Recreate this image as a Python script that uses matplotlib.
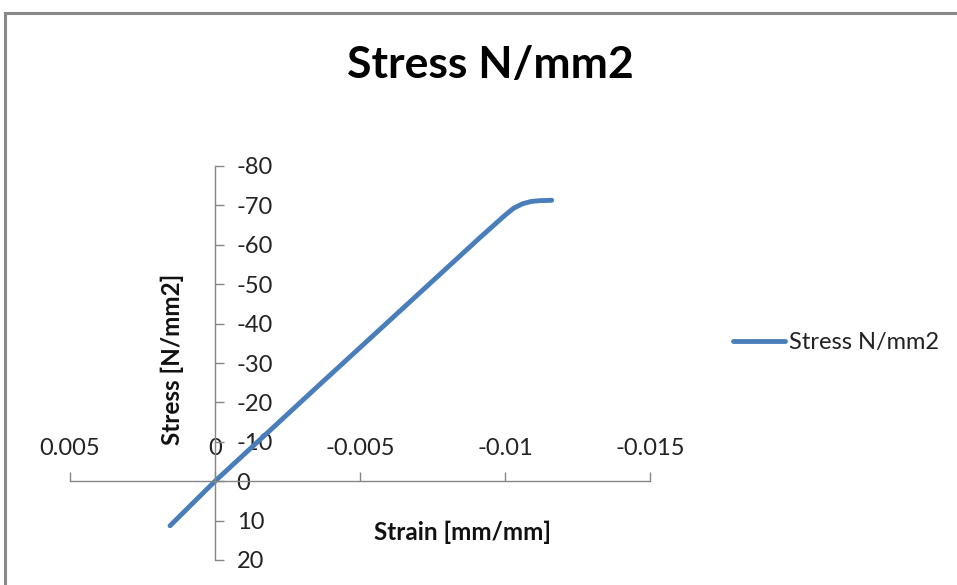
import matplotlib.pyplot as plt
from matplotlib.lines import Line2D
from matplotlib.ticker import FuncFormatter

# values
strain = [0.00155, 0.0, -0.00362, -0.0058, -0.00914, -0.0100, -0.0103, -0.0106, -0.0109, -0.0112, -0.01161]
stress = [11.3, 0.0, -24.6, -39.3, -61.85, -67.5, -69.3, -70.4, -71.0, -71.2, -71.3]
x_ticks = [0.005, 0.0, -0.005, -0.01, -0.015]
y_ticks = [-80, -70, -60, -50, -40, -30, -20, -10, 0, 10, 20]

W, H = 957, 585
plt.rcParams['font.family'] = ['Lato', 'DejaVu Sans']
axis_col = "#868686"
txt_col = "#222222"

fig = plt.figure(figsize=(W / 100, H / 100), dpi=100)
ax = fig.add_axes([70 / W, 1 - 560 / H, (650 - 70) / W, (560 - 166) / H])

line, = ax.plot(strain, stress, color="#4A7EBB", lw=3.5,
                solid_capstyle="round", solid_joinstyle="round",
                label="Stress N/mm2")

ax.set_xlim(0.005, -0.015)
ax.set_ylim(20, -80)
ax.set_xticks(x_ticks)
ax.set_yticks(y_ticks)
fmt = FuncFormatter(lambda v, p: f"{v:g}")
ax.xaxis.set_major_formatter(fmt)
ax.yaxis.set_major_formatter(fmt)

# axes crossing at zero, Excel style
for s in ("left", "bottom"):
    ax.spines[s].set_visible(False)
ax.spines["top"].set_position(("data", 0))
ax.spines["right"].set_position(("data", 0))
for s in ("top", "right"):
    ax.spines[s].set_color(axis_col)
    ax.spines[s].set_linewidth(1.0)
ax.xaxis.set_ticks_position("top")
ax.yaxis.set_ticks_position("right")
ax.tick_params(axis="x", direction="out", length=6.5, width=1.0, color=axis_col,
               pad=9.5, labelsize=17, labelcolor=txt_col)
ax.tick_params(axis="y", direction="out", length=6.5, width=1.0, color=axis_col,
               pad=9, labelsize=17, labelcolor=txt_col)
ax.patch.set_visible(False)

fig.text(463 / W, 1 - 532 / H, "Strain [mm/mm]", ha="center", va="center",
         fontsize=17.5, fontweight="bold", color="#111111")
fig.text(172 / W, 1 - 359 / H, "Stress [N/mm2]", ha="center", va="center",
         rotation=90, fontsize=17.5, fontweight="bold", color="#111111")
fig.text(490 / W, 1 - 65 / H, "Stress N/mm2", ha="center", va="center",
         fontsize=32, fontweight="bold", color="#000000")

ax.legend(handles=[line], loc="center left", bbox_to_anchor=(733 / W, 1 - 343 / H),
          bbox_transform=fig.transFigure, frameon=False, fontsize=17,
          handlelength=2.2, handletextpad=0.17, borderpad=0, borderaxespad=0,
          labelcolor=txt_col)

# chart area border (cropped on the right and bottom)
fig.add_artist(Line2D([5 / W, 1], [1 - 13 / H, 1 - 13 / H], color="#888888", lw=2.2,
                      transform=fig.transFigure))
fig.add_artist(Line2D([5 / W, 5 / W], [0, 1 - 13 / H], color="#888888", lw=2.2,
                      transform=fig.transFigure))

fig.savefig("out.png", dpi=100)
